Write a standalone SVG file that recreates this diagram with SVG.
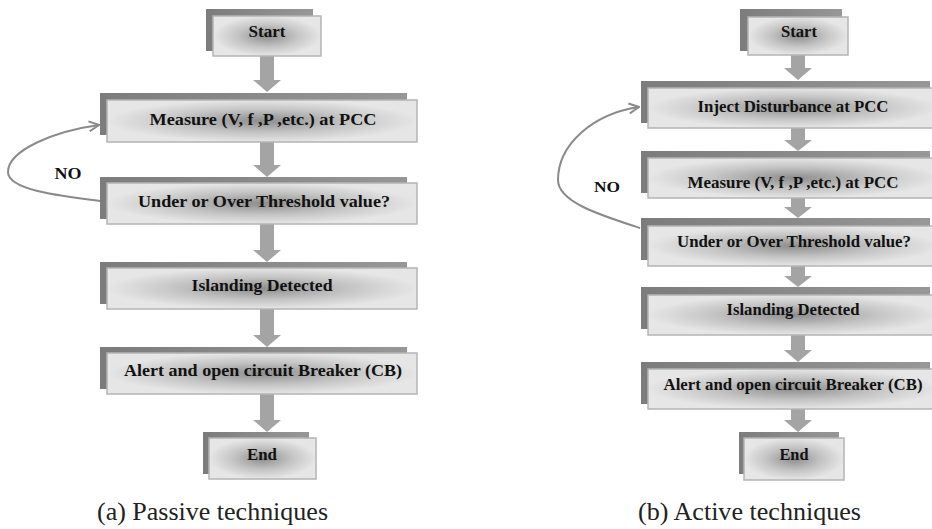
<svg xmlns="http://www.w3.org/2000/svg" width="932" height="529" viewBox="0 0 932 529">
  <defs>
    <radialGradient id="face" cx="0.5" cy="0.5" r="0.5" gradientUnits="objectBoundingBox">
      <stop offset="0" stop-color="#8e8e8e"/>
      <stop offset="0.55" stop-color="#c4c4c4"/>
      <stop offset="1" stop-color="#e6e6e6"/>
    </radialGradient>
    <linearGradient id="back" x1="0" y1="0" x2="1" y2="0">
      <stop offset="0" stop-color="#7c7c7c"/>
      <stop offset="1" stop-color="#979797"/>
    </linearGradient>
    <marker id="open" viewBox="0 0 12 12" refX="11" refY="6" markerWidth="12" markerHeight="12" markerUnits="userSpaceOnUse" orient="auto">
      <path d="M1,1 L11,6 L1,11" fill="none" stroke="#8a8a8a" stroke-width="2"/>
    </marker>
  </defs>
  <style>
    .bk { fill: url(#back); }
    .fr { fill: url(#face); stroke: #b4b4b4; stroke-width: 1.5; }
    .t { font-family: "Liberation Serif", "Times New Roman", serif; font-weight: bold; fill: #111; text-anchor: middle; }
    .tl { font-size: 17.5px; }
    .tr { font-size: 16.5px; }
    .cap { font-family: "Liberation Serif", "Times New Roman", serif; font-size: 26px; fill: #222; }
    .ar { fill: #a4a4a4; }
    .loop { fill: none; stroke: #8a8a8a; stroke-width: 2; marker-end: url(#open); }
  </style>
  <rect width="932" height="529" fill="#ffffff"/>

  <g id="connectors">
    <!-- left (a) -->
    <polygon class="ar" points="260,56 274,56 274,80 281,80 267,92 253,80 260,80"/>
    <polygon class="ar" points="260,142 274,142 274,165 281,165 267,177 253,165 260,165"/>
    <polygon class="ar" points="260,224 274,224 274,250 281,250 267,262 253,250 260,250"/>
    <polygon class="ar" points="260,309 274,309 274,335 281,335 267,347 253,335 260,335"/>
    <polygon class="ar" points="260,394 274,394 274,420 281,420 267,432 253,420 260,420"/>
    <path class="loop" d="M100,201 C60,196 8,190 8,172 C8,150 55,131 99,125"/>
    <!-- right (b) -->
    <polygon class="ar" points="791,55 805,55 805,68 812,68 798,80 784,68 791,68"/>
    <polygon class="ar" points="791,128 805,128 805,140 812,140 798,151 784,140 791,140"/>
    <polygon class="ar" points="791,198 805,198 805,207 812,207 798,218 784,207 791,207"/>
    <polygon class="ar" points="791,266 805,266 805,276 812,276 798,287 784,276 791,276"/>
    <polygon class="ar" points="791,335 805,335 805,350 812,350 798,362 784,350 791,350"/>
    <polygon class="ar" points="791,409 805,409 805,420 812,420 798,432 784,420 791,420"/>
    <path class="loop" d="M640,228 C600,215 558,202 558,180 C558,145 592,114 639,107"/>
  </g>

  <!-- (a) Passive techniques -->
  <g id="a-start">
    <rect class="bk" x="206" y="9" width="107" height="42"/>
    <rect class="fr" x="213" y="16" width="108" height="40"/>
    <text class="t tl" x="267" y="37" textLength="37" lengthAdjust="spacingAndGlyphs">Start</text>
  </g>
  <g id="a-measure">
    <rect class="bk" x="100" y="93" width="307" height="42"/>
    <rect class="fr" x="107" y="100" width="310" height="42"/>
    <text class="t tl" x="263" y="125" textLength="227" lengthAdjust="spacingAndGlyphs">Measure (V, f ,P ,etc.) at PCC</text>
  </g>
  <g id="a-threshold">
    <rect class="bk" x="100" y="177" width="307" height="42"/>
    <rect class="fr" x="107" y="183" width="310" height="41"/>
    <text class="t tl" x="264" y="207" textLength="252" lengthAdjust="spacingAndGlyphs">Under or Over Threshold value?</text>
  </g>
  <g id="a-no">
    <text class="t" style="font-size:16px" x="68" y="179" textLength="27" lengthAdjust="spacingAndGlyphs">NO</text>
  </g>
  <g id="a-islanding">
    <rect class="bk" x="100" y="262" width="307" height="42"/>
    <rect class="fr" x="107" y="268" width="310" height="41"/>
    <text class="t tl" x="262" y="291" textLength="141" lengthAdjust="spacingAndGlyphs">Islanding Detected</text>
  </g>
  <g id="a-alert">
    <rect class="bk" x="100" y="347" width="307" height="42"/>
    <rect class="fr" x="107" y="353" width="310" height="41"/>
    <text class="t tl" x="263" y="376" textLength="278" lengthAdjust="spacingAndGlyphs">Alert and open circuit Breaker (CB)</text>
  </g>
  <g id="a-end">
    <rect class="bk" x="203" y="432" width="106" height="42"/>
    <rect class="fr" x="209" y="438" width="107" height="41"/>
    <text class="t tl" x="262" y="460" textLength="30" lengthAdjust="spacingAndGlyphs">End</text>
  </g>
  <g id="a-caption">
    <text class="cap" x="97" y="520" textLength="231" lengthAdjust="spacingAndGlyphs">(a) Passive techniques</text>
  </g>

  <!-- (b) Active techniques -->
  <g id="b-start">
    <rect class="bk" x="740" y="9" width="102" height="42"/>
    <rect class="fr" x="748" y="17" width="100" height="38"/>
    <text class="t tr" x="799" y="37" textLength="36" lengthAdjust="spacingAndGlyphs">Start</text>
  </g>
  <g id="b-inject">
    <rect class="bk" x="641" y="81" width="289" height="42"/>
    <rect class="fr" x="648" y="88" width="292" height="40"/>
    <text class="t tr" x="793" y="112" textLength="191" lengthAdjust="spacingAndGlyphs">Inject Disturbance at PCC</text>
  </g>
  <g id="b-no">
    <text class="t" style="font-size:15px" x="607" y="192" textLength="26" lengthAdjust="spacingAndGlyphs">NO</text>
  </g>
  <g id="b-measure">
    <rect class="bk" x="641" y="151" width="289" height="42"/>
    <rect class="fr" x="648" y="158" width="292" height="40"/>
    <text class="t tr" x="793" y="188" textLength="211" lengthAdjust="spacingAndGlyphs">Measure (V, f ,P ,etc.) at PCC</text>
  </g>
  <g id="b-threshold">
    <rect class="bk" x="641" y="218" width="289" height="42"/>
    <rect class="fr" x="648" y="226" width="292" height="40"/>
    <text class="t tr" x="794" y="247" textLength="234" lengthAdjust="spacingAndGlyphs">Under or Over Threshold value?</text>
  </g>
  <g id="b-islanding">
    <rect class="bk" x="641" y="287" width="289" height="42"/>
    <rect class="fr" x="648" y="295" width="292" height="40"/>
    <text class="t tr" x="793" y="315" textLength="133" lengthAdjust="spacingAndGlyphs">Islanding Detected</text>
  </g>
  <g id="b-alert">
    <rect class="bk" x="641" y="362" width="289" height="42"/>
    <rect class="fr" x="648" y="369" width="292" height="40"/>
    <text class="t tr" x="793" y="390" textLength="259" lengthAdjust="spacingAndGlyphs">Alert and open circuit Breaker (CB)</text>
  </g>
  <g id="b-end">
    <rect class="bk" x="739" y="432" width="100" height="42"/>
    <rect class="fr" x="744" y="438" width="100" height="42"/>
    <text class="t tr" x="794" y="460" textLength="29" lengthAdjust="spacingAndGlyphs">End</text>
  </g>
  <g id="b-caption">
    <text class="cap" x="638" y="520" textLength="223" lengthAdjust="spacingAndGlyphs">(b) Active techniques</text>
  </g>
</svg>
